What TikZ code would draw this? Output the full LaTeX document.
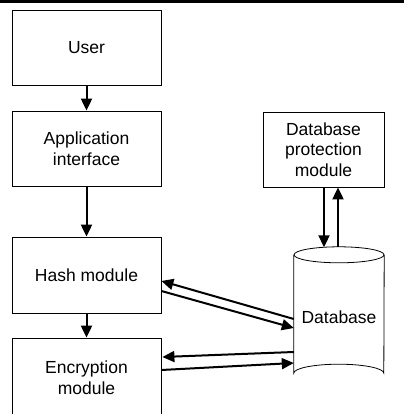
\documentclass[tikz,border=0pt]{standalone}
\usepackage{fontspec}
\setmainfont{Liberation Sans}
\usetikzlibrary{arrows.meta}
\usetikzlibrary{calc}

\tikzset{
	caja/.style={draw, line width=0.8pt, rectangle, align=center,
		font=\fontsize{17.5}{20.5}\selectfont},
	flecha/.style={line width=2pt, -{Triangle[length=12pt,width=11pt]}}
}

\begin{document}
\begin{tikzpicture}[x=1pt, y=-1pt]
		\useasboundingbox (0,0) rectangle (404,414);
		\clip (0,0) rectangle (404,414);
		% barra negra superior
		\fill[black] (0,0) rectangle (404,3);
		
		% Cajas de la izquierda
		\node[caja, minimum width=149pt, minimum height=75pt] (user) at (86.5,47.5) {User};
		\node[caja, minimum width=149pt, minimum height=75pt] (app) at (86.5,148.5) {Application\\interface};
		\node[caja, minimum width=149pt, minimum height=76pt] (hash) at (86.5,275) {Hash module};
		\node[caja, minimum width=149pt, minimum height=79pt] (enc) at (86.5,377.5) {Encryption\\module};
		
		% Caja de la derecha
		\node[caja, minimum width=121pt, minimum height=75pt] (prot) at (323.5,149.5) {Database\\protection\\module};
		
		% Base de datos (cilindro)
		\node[font=\fontsize{17.5}{20.5}\selectfont, minimum width=90pt, minimum height=118pt, inner sep=0pt, text height=20pt] (db) at (339,314) {Database};
		\draw[line width=0.8pt] (db.north west) -- (db.south west)
			arc[start angle=180, end angle=360, x radius=45pt, y radius=-9pt] -- (db.north east);
		\draw[line width=0.8pt] (db.north) ellipse[x radius=45pt, y radius=8pt];
		
		% Flechas
		\draw[flecha] (user) -- (app);
		\draw[flecha] (app) -- (hash);
		\draw[flecha] (hash) -- (enc);
		\draw[flecha] ($(prot.south)+(0.5,0)$) -- ($(db.north)+(-15,-7.5)$);
		\draw[flecha] ($(db.north)+(-1,-8)$) -- ($(prot.south)+(14.5,0)$);
		\draw[flecha] ($(db.west)+(0,5)$) -- ($(hash.east)+(0,6)$);
		\draw[flecha] ($(hash.east)+(0,16)$) -- ($(db.west)+(0,14)$);
		\draw[flecha] ($(db.west)+(0,38)$) -- ($(enc.east)+(1,-20.5)$);
		\draw[flecha] ($(enc.east)+(0,-7.5)$) -- ($(db.west)+(0,49)$);
	\end{tikzpicture}
\end{document}
